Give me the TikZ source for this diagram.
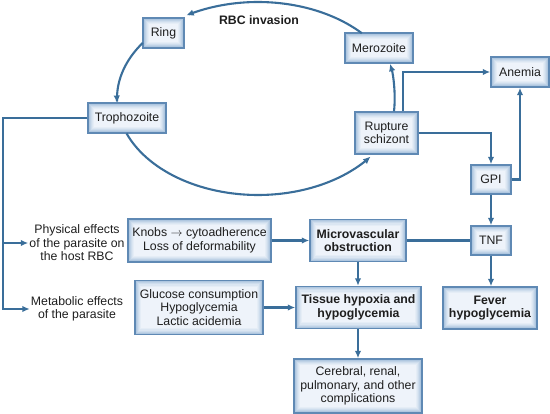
\documentclass[tikz,border=0pt]{standalone}
\usepackage{fontspec}
\setmainfont{Liberation Sans}
\usetikzlibrary{arrows.meta}
\definecolor{linec}{HTML}{3A6E9A}
\definecolor{boxedge}{HTML}{5F89B4}
\definecolor{boxin}{HTML}{EEF3FA}
\definecolor{glow}{HTML}{AFC7E0}
\definecolor{txtc}{HTML}{1E1E1E}
\begin{document}
\begin{tikzpicture}[x=1pt,y=-1pt,
  font=\fontsize{12.3}{13.6}\selectfont, text=txtc,
  box/.style 2 args={draw=boxedge, line width=1.4pt, fill=boxin, align=center, inner sep=0pt, minimum width=#1, minimum height=#2,
    path picture={\foreach \k/\c in {1/100,2/75,3/50,4/30,5/14}{
      \draw[draw=glow!\c!boxin, line width=1.3pt] ([shift={({\k*1.15pt},{\k*1.15pt})}]path picture bounding box.south west) rectangle ([shift={({-\k*1.15pt},{-\k*1.15pt})}]path picture bounding box.north east);}}},
  bold/.style={font=\fontsize{12.3}{13.6}\selectfont\bfseries},
  txt/.style={align=center, inner sep=1pt},
  conn/.style={draw=linec, line width=2.1pt},
  arr/.style={conn, -{Latex[length=7.5pt,width=6.5pt]}}]
\useasboundingbox (0,0) rectangle (550,414);

\node[box={41pt}{30pt}] (ring) at (163.5,33) {Ring};
\node[box={78pt}{30pt}] (troph) at (127,118) {Trophozoite};
\node[box={68pt}{30pt}] (mero) at (379,48) {Merozoite};
\node[box={63pt}{42pt}] (schiz) at (386.5,133) {Rupture\\schizont};
\node[box={58pt}{30pt}] (anemia) at (520,72) {Anemia};
\node[box={40pt}{29pt}] (gpi) at (491,179.5) {GPI};
\node[box={40pt}{29pt}] (tnf) at (491,240.5) {TNF};
\node[box={96pt}{42pt},bold] (micro) at (358,240.5) {Microvascular\\obstruction};
\node[box={125pt}{42pt},bold] (tissue) at (358.5,307.5) {Tissue hypoxia and\\hypoglycemia};
\node[box={94pt}{42pt},bold] (fever) at (490,308) {Fever\\hypoglycemia};
\node[box={128pt}{54pt}] (cereb) at (358,386) {Cerebral, renal,\\pulmonary, and other\\complications};
\node[box={143pt}{43pt}] (knobs) at (199.5,240.5) {Knobs $\rightarrow$ cytoadherence\\Loss of deformability};
\node[box={128pt}{54pt}] (gluc) at (199,307.5) {Glucose consumption\\Hypoglycemia\\Lactic acidemia};
\node[txt] (phys) at (77,243) {Physical effects\\of the parasite on\\the host RBC};
\node[txt] (meta) at (77,309) {Metabolic effects\\of the parasite};
\node[bold] (rbc) at (259,20) {RBC invasion};

% life cycle ellipse
\draw[arr] plot[domain=-42.6:-120.6, samples=60] ({258+141*cos(\x)},{98.5+96.5*sin(\x)});
\draw[arr] plot[domain=-144.8:-182.7, samples=40] ({258+141*cos(\x)},{98.5+96.5*sin(\x)});
\draw[arr] plot[domain=158.8:37, samples=80] ({258+141*cos(\x)},{98.5+96.5*sin(\x)});
\draw[arr] ([xshift=7.5pt]schiz.north) .. controls +(2,-18) and +(3,10) .. ([xshift=11pt]mero.south);

% left branch
\coordinate (lx) at (3,118);
\draw[arr] (troph.west) -- (lx) -- (lx |- meta.west) -- (meta.west);
\draw[arr] (lx |- phys.west) -- (phys.west);

% right side
\draw[arr] ([xshift=16.5pt]schiz.north) |- (anemia.west);
\draw[arr] (schiz.east) -| (gpi.north);
\draw[arr] (gpi.east) -| (anemia.south);
\draw[arr] (gpi.south) -- (tnf.north);
\draw[arr] (tnf.south) -- (tnf.south |- fever.north);
\draw[conn] (micro.east) -- (tnf.west);

% middle
\draw[arr] (knobs.east) -- (micro.west);
\draw[arr] (gluc.east) -- (tissue.west);
\draw[arr] (micro.south) -- (micro.south |- tissue.north);
\draw[arr] (tissue.south -| cereb.north) -- (cereb.north);
\end{tikzpicture}
\end{document}
